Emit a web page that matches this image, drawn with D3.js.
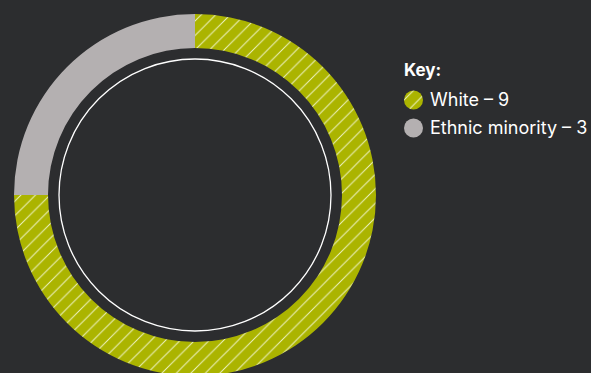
<!DOCTYPE html>
<html>
<head>
<meta charset="utf-8">
<script src="https://cdn.jsdelivr.net/npm/d3@7"></script>
<style>
  html, body { margin: 0; padding: 0; background: #2c2d2f; }
  svg { display: block; }
  text { font-family: Inter, "Noto Sans", sans-serif; }
</style>
</head>
<body>
<svg id="chart" width="591" height="373"></svg>
<script>
const categories = ["White", "Ethnic minority"];
const values = [9, 3];
const colors = ["#abb400", "#b4b0b1"];
const hatched = [true, false];
const legendTitle = "Key:";

const svg = d3.select("#chart");
svg.append("rect").attr("width", 591).attr("height", 373).attr("fill", "#2c2d2f");

const defs = svg.append("defs");
const P = 14.5;
const pat = defs.append("pattern")
  .attr("id", "hatch")
  .attr("patternUnits", "userSpaceOnUse")
  .attr("width", P).attr("height", P);
pat.append("rect").attr("width", P).attr("height", P).attr("fill", colors[0]);
pat.append("path")
  .attr("d", `M-2,2 L2,-2 M0,${P} L${P},0 M${P-2},${P+2} L${P+2},${P-2}`)
  .attr("stroke", "#eef3c4").attr("stroke-width", 1);

const cx = 195, cy = 195;
const outerR = 181, innerR = 147, ringR = 136;

const pie = d3.pie().sort(null).value(d => d.value);
const arc = d3.arc().innerRadius(innerR).outerRadius(outerR);
const data = categories.map((c, i) => ({ name: c, value: values[i], i }));

const g = svg.append("g").attr("transform", `translate(${cx},${cy})`);
g.selectAll("path.slice")
  .data(pie(data))
  .join("path")
  .attr("class", "slice")
  .attr("d", arc)
  .attr("fill", d => hatched[d.data.i] ? "url(#hatch)" : colors[d.data.i]);

g.append("circle")
  .attr("r", ringR)
  .attr("fill", "none")
  .attr("stroke", "#ffffff")
  .attr("stroke-width", 1.3);

// Legend
const lg = svg.append("g").attr("transform", "translate(404,0)");
lg.append("text")
  .attr("x", 0).attr("y", 76)
  .attr("fill", "#ffffff")
  .attr("font-size", 17)
  .attr("font-weight", 700)
  .text(legendTitle);

const items = lg.selectAll("g.item")
  .data(data)
  .join("g")
  .attr("class", "item")
  .attr("transform", (d, i) => `translate(0,${100 + i * 28})`);
items.append("circle")
  .attr("cx", 9.5).attr("cy", 0).attr("r", 9.5)
  .attr("fill", d => hatched[d.i] ? "url(#hatch)" : colors[d.i]);
items.append("text")
  .attr("x", 26).attr("y", 6)
  .attr("fill", "#ffffff")
  .attr("font-size", 18)
  .text(d => `${d.name} – ${d.value}`);
</script>
</body>
</html>
